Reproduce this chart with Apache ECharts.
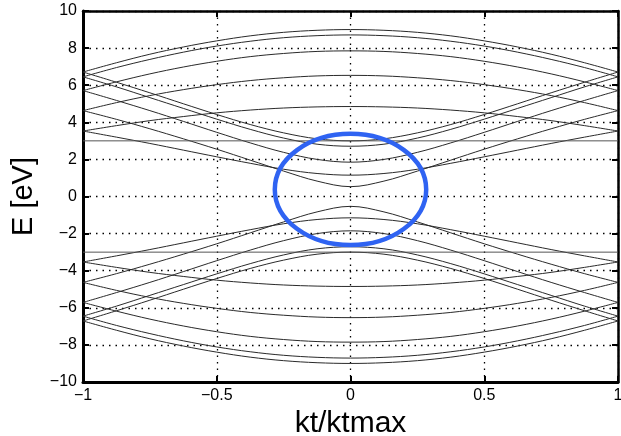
<!DOCTYPE html>
<html>
<head>
<meta charset="utf-8">
<script src="https://cdn.jsdelivr.net/npm/echarts@6/dist/echarts.min.js"></script>
<style>
  html, body { margin: 0; padding: 0; background: #fff; }
  #chart { width: 621px; height: 436px; }
</style>
</head>
<body>
<div id="chart"></div>
<script>
// kt/ktmax sample points, right half (left half is the mirror image)
const xHalf = [0, 0.125, 0.25, 0.375, 0.5, 0.625, 0.75, 0.875, 1]

// conduction bands E [eV] read at xHalf, valence bands are the same with minus sign
const band1Top = [9.00, 8.96, 8.85, 8.66, 8.39, 8.06, 7.67, 7.21, 6.71]
const band1Bot = [3.00, 3.11, 3.43, 3.88, 4.42, 5.00, 5.59, 6.16, 6.71]
const band2Top = [8.71, 8.67, 8.56, 8.37, 8.11, 7.78, 7.39, 6.95, 6.45]
const band2Bot = [2.71, 2.82, 3.15, 3.62, 4.17, 4.75, 5.33, 5.91, 6.45]
const band3Top = [7.85, 7.82, 7.71, 7.54, 7.29, 6.98, 6.61, 6.18, 5.71]
const band3Bot = [1.85, 2.00, 2.38, 2.89, 3.46, 4.05, 4.63, 5.18, 5.71]
const band4Top = [6.53, 6.50, 6.40, 6.25, 6.03, 5.76, 5.44, 5.06, 4.63]
const band4Bot = [0.53, 0.83, 1.37, 1.96, 2.55, 3.11, 3.65, 4.16, 4.63]
const band5Top = [4.85, 4.83, 4.77, 4.66, 4.51, 4.31, 4.09, 3.82, 3.53]
const band5Bot = [1.15, 1.24, 1.47, 1.79, 2.14, 2.50, 2.86, 3.20, 3.53]
const flatBand = 3.00

// tick values
const xTicks = [-1, -0.5, 0, 0.5, 1]
const yTicks = [-10, -8, -6, -4, -2, 0, 2, 4, 6, 8, 10]

// marked region (kt/ktmax, E) around the gap
const markCenter = [0, 0.38]
const markRadius = [0.283, 3.0]

const FONT = 'Liberation Sans, Arial, Helvetica, sans-serif'
const bands = [band1Top, band1Bot, band2Top, band2Bot, band3Top, band3Bot,
  band4Top, band4Bot, band5Top, band5Bot]

const mirror = (half) => half.slice(1).reverse().concat(half)
const fullX = mirror(xHalf).map((v, i) => (i < xHalf.length - 1 ? -v : v))

const fmt = (v) => (v < 0 ? '\u2212' + Math.abs(v) : String(v))

const series = []
bands.forEach((b) => {
  const vals = mirror(b)
  ;[1, -1].forEach((sign) => {
    series.push({
      type: 'line',
      smooth: 0.35,
      showSymbol: false,
      silent: true,
      lineStyle: { color: '#2a2a2a', width: 1 },
      data: fullX.map((x, i) => [x, sign * vals[i]]),
    })
  })
})
;[1, -1].forEach((sign) => {
  series.push({
    type: 'line',
    showSymbol: false,
    silent: true,
    lineStyle: { color: '#555', width: 1 },
    data: [[xTicks[0], sign * flatBand], [xTicks[xTicks.length - 1], sign * flatBand]],
  })
})

const dotted = { color: '#000', width: 1.3, type: [1.5, 5] }
const tick = { show: true, inside: true, length: 6, lineStyle: { color: '#000', width: 2 } }
const label = { color: '#000', fontSize: 16, fontFamily: FONT, margin: 6, formatter: fmt }

const chart = echarts.init(document.getElementById('chart'))
chart.setOption({
  animation: false,
  backgroundColor: '#fff',
  grid: { left: 83, right: 3, top: 11, bottom: 54, outerBoundsMode: 'none' },
  xAxis: [{
    type: 'value', min: xTicks[0], max: xTicks[xTicks.length - 1], interval: 0.5, position: 'bottom',
    name: 'kt/ktmax', nameLocation: 'middle', nameGap: 20,
    nameTextStyle: { color: '#000', fontSize: 30, fontFamily: FONT },
    axisLine: { onZero: false, lineStyle: { color: '#000', width: 3 } },
    axisTick: tick,
    axisLabel: label,
    splitLine: { show: true, lineStyle: dotted },
  }, {
    type: 'value', min: xTicks[0], max: xTicks[xTicks.length - 1], interval: 0.5, position: 'top',
    axisLine: { onZero: false, lineStyle: { color: '#000', width: 2.5 } },
    axisTick: tick,
    axisLabel: { show: false },
    splitLine: { show: false },
  }],
  yAxis: [{
    type: 'value', min: yTicks[0], max: yTicks[yTicks.length - 1], interval: 2, position: 'left',
    name: 'E [eV]', nameLocation: 'middle', nameGap: 42, nameRotate: 90,
    nameTextStyle: { color: '#000', fontSize: 29, fontFamily: FONT },
    axisLine: { show: true, onZero: false, lineStyle: { color: '#000', width: 3 } },
    axisTick: tick,
    axisLabel: label,
    splitLine: { show: true, lineStyle: dotted },
  }, {
    type: 'value', min: yTicks[0], max: yTicks[yTicks.length - 1], interval: 2, position: 'right',
    axisLine: { show: true, onZero: false, lineStyle: { color: '#000', width: 2.5 } },
    axisTick: tick,
    axisLabel: { show: false },
    splitLine: { show: false },
  }],
  series: series,
})

// blue ellipse placed from data coords
const c = chart.convertToPixel({ gridIndex: 0 }, markCenter)
const e = chart.convertToPixel({ gridIndex: 0 }, [markCenter[0] + markRadius[0], markCenter[1] + markRadius[1]])
chart.setOption({
  graphic: [{
    type: 'ellipse',
    z: 100,
    shape: { cx: c[0], cy: c[1], rx: Math.abs(e[0] - c[0]), ry: Math.abs(c[1] - e[1]) },
    style: { fill: 'none', stroke: '#2f63f2', lineWidth: 4.5 },
  }],
})
</script>
</body>
</html>
